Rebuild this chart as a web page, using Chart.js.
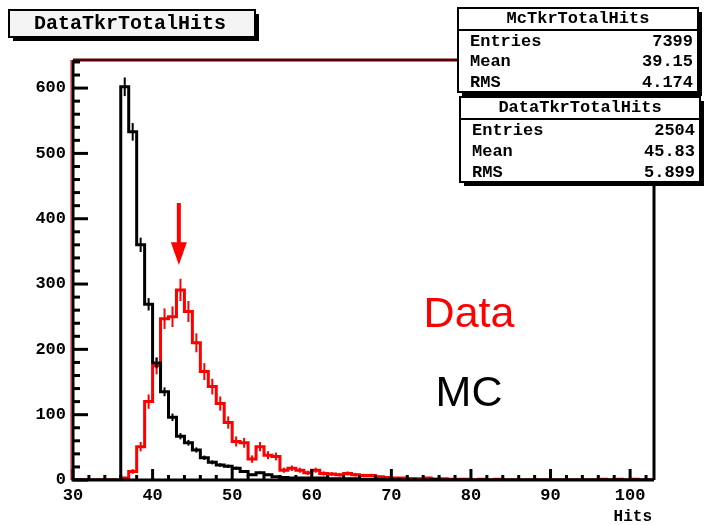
<!DOCTYPE html>
<html>
<head>
<meta charset="utf-8">
<script src="https://cdn.jsdelivr.net/npm/chart.js@4"></script>
<style>
  html, body { margin: 0; padding: 0; background: #fff; }
  #wrap { width: 708px; height: 525px; }
</style>
</head>
<body>
<div id="wrap"><canvas id="hitsChart" width="708" height="525"></canvas></div>
<script>
// histogram bins: width 1, first bin starts at 30
const xStart = 30;
const binWidth = 1;
const xMin = 30, xMax = 103;
const yMin = 0, yMax = 643;
const xTickValues = [30, 40, 50, 60, 70, 80, 90, 100];
const yTickValues = [0, 100, 200, 300, 400, 500, 600];

// counts per bin, 30..102
const mcCounts = [
    0, 0, 0, 0, 0, 0,                 // 30-35
    602, 533, 360, 269, 179, 135, 96, 67, 57, 46,   // 36-45
    34, 27, 23, 21, 18, 13, 8, 11, 8, 5,            // 46-55
    4, 3, 3, 3, 3, 3, 2, 2, 2, 2,                   // 56-65
    1, 1, 1, 1, 1, 0, 1, 0, 0, 1,                   // 66-75
    0, 0, 0, 0, 0, 0, 0, 0, 0, 0,                   // 76-85
    0, 0, 0, 0, 0, 0, 0, 0, 0, 0,                   // 86-95
    0, 0, 0, 0, 0, 0, 0                             // 96-102
];
const dataCounts = [
    0, 0, 0, 0, 0, 0,                 // 30-35
    3, 13, 51, 120, 175, 247, 250, 291, 258, 210,   // 36-45
    166, 143, 117, 88, 59, 57, 32, 51, 38, 36,      // 46-55
    15, 18, 15, 11, 15, 10, 9, 8, 10, 8,            // 56-65
    7, 7, 5, 4, 3, 3, 2, 2, 3, 1,                   // 66-75
    2, 1, 1, 1, 0, 1, 0, 1, 0, 0,                   // 76-85
    0, 0, 0, 0, 0, 0, 0, 0, 0, 0,                   // 86-95
    1, 0, 1, 0, 1, 0, 0                             // 96-102
];

const mcName = 'McTkrTotalHits';
const dataName = 'DataTkrTotalHits';
const statLabels = ['Entries', 'Mean', 'RMS'];
const mcStats = ['7399', '39.15', '4.174'];
const dataStats = ['2504', '45.83', '5.899'];
const mcScale = 2504 / 7399;   // MC normalised to data

// arrow marking the data peak
const arrowX = 43.3;
const arrowTop = 424, arrowHead = 364, arrowTip = 329;

const mono = '"Liberation Mono", "Courier New", monospace';

function histPoints(counts) {
    // point i sits at the left edge of bin i; 'before' stepping keeps its
    // value across the bin, then the closing point ends the last bin
    const pts = counts.map((c, i) => ({ x: xStart + i * binWidth, y: c }));
    pts.push({ x: xStart + counts.length * binWidth, y: counts[counts.length - 1] });
    return pts;
}

function drawBox(ctx, x, y, w, h, fill) {
    ctx.fillStyle = '#000';
    ctx.fillRect(x + 4, y + 4, w, h);           // shadow
    ctx.fillStyle = fill;
    ctx.fillRect(x, y, w, h);
    ctx.strokeStyle = '#000';
    ctx.lineWidth = 2;
    ctx.strokeRect(x, y, w, h);
}

function drawStatBox(ctx, x, y, w, h, name, values) {
    drawBox(ctx, x, y, w, h, '#fff');
    const titleH = 22;
    ctx.beginPath();
    ctx.moveTo(x, y + titleH);
    ctx.lineTo(x + w, y + titleH);
    ctx.lineWidth = 2;
    ctx.stroke();
    ctx.fillStyle = '#000';
    ctx.font = 'bold 17px ' + mono;
    ctx.textBaseline = 'middle';
    ctx.textAlign = 'center';
    ctx.fillText(name, x + w / 2, y + 11);
    const rowH = (h - titleH) / 3;
    statLabels.forEach((lab, i) => {
        const cy = y + titleH + rowH * (i + 0.5) + 1;
        ctx.textAlign = 'left';
        ctx.fillText(lab, x + 12, cy);
        ctx.textAlign = 'right';
        ctx.fillText(values[i], x + w - 5, cy);
    });
}

const rootDecor = {
    id: 'rootDecor',
    afterDatasetsDraw(chart) {
        const ctx = chart.ctx;
        const xs = chart.scales.x, ys = chart.scales.y;
        const a = chart.chartArea;
        ctx.save();

        // error bars at bin centres
        [[dataCounts, '#f00', 1], [mcCounts, '#000', mcScale]].forEach(([counts, col, s]) => {
            ctx.strokeStyle = col;
            ctx.lineWidth = 2;
            counts.forEach((c, i) => {
                if (c <= 0) return;
                const e = Math.sqrt(c * s);
                const px = xs.getPixelForValue(xStart + (i + 0.5) * binWidth);
                ctx.beginPath();
                ctx.moveTo(px, ys.getPixelForValue(Math.max(0, c - e)));
                ctx.lineTo(px, ys.getPixelForValue(c + e));
                ctx.stroke();
            });
        });

        // frame
        ctx.lineWidth = 3;
        ctx.strokeStyle = '#5a0000';
        ctx.beginPath();
        ctx.moveTo(a.left, a.top);
        ctx.lineTo(a.right, a.top);
        ctx.stroke();
        ctx.strokeStyle = '#000';
        ctx.beginPath();
        ctx.moveTo(a.right, a.top);
        ctx.lineTo(a.right, a.bottom);
        ctx.stroke();
        ctx.beginPath();
        ctx.moveTo(a.left, a.top);
        ctx.lineTo(a.left, a.bottom);
        ctx.lineTo(a.right, a.bottom);
        ctx.stroke();
        ctx.strokeStyle = '#c00000';
        ctx.lineWidth = 1;
        ctx.beginPath();
        ctx.moveTo(a.left - 2, a.top);
        ctx.lineTo(a.left - 2, a.bottom);
        ctx.stroke();

        // inner ticks
        ctx.strokeStyle = '#000';
        ctx.lineWidth = 3;
        for (let v = yMin; v <= yMax; v += 20) {
            const py = ys.getPixelForValue(v);
            const len = v % 100 === 0 ? 15 : 7;
            ctx.beginPath();
            ctx.moveTo(a.left, py);
            ctx.lineTo(a.left + len, py);
            ctx.stroke();
        }
        for (let v = xMin; v <= xMax; v += 2) {
            const px = xs.getPixelForValue(v);
            const len = v % 10 === 0 ? 11 : 5;
            ctx.beginPath();
            ctx.moveTo(px, a.bottom);
            ctx.lineTo(px, a.bottom - len);
            ctx.stroke();
        }

        // arrow
        const ax = xs.getPixelForValue(arrowX);
        ctx.strokeStyle = '#f00';
        ctx.fillStyle = '#f00';
        ctx.lineWidth = 4;
        ctx.beginPath();
        ctx.moveTo(ax, ys.getPixelForValue(arrowTop));
        ctx.lineTo(ax, ys.getPixelForValue(arrowHead) + 2);
        ctx.stroke();
        ctx.beginPath();
        ctx.moveTo(ax - 8, ys.getPixelForValue(arrowHead));
        ctx.lineTo(ax + 8, ys.getPixelForValue(arrowHead));
        ctx.lineTo(ax, ys.getPixelForValue(arrowTip));
        ctx.closePath();
        ctx.fill();

        // Data / MC labels
        ctx.font = '43px "Liberation Sans", Arial, sans-serif';
        ctx.textAlign = 'center';
        ctx.textBaseline = 'middle';
        ctx.fillStyle = '#f00';
        ctx.fillText('Data', 469, 315);
        ctx.fillStyle = '#000';
        ctx.fillText('MC', 469, 394);

        // axis label
        ctx.font = 'bold 16px ' + mono;
        ctx.textAlign = 'right';
        ctx.fillText('Hits', a.right - 2, 517);

        // title box
        drawBox(ctx, 9, 10, 246, 27, '#f4f4f4');
        ctx.fillStyle = '#000';
        ctx.font = 'bold 20px ' + mono;
        ctx.textAlign = 'center';
        ctx.textBaseline = 'middle';
        ctx.fillText(dataName, 130, 24);

        // stat boxes
        drawStatBox(ctx, 458, 8, 240, 84, mcName, mcStats);
        drawStatBox(ctx, 460, 97, 240, 85, dataName, dataStats);

        ctx.restore();
    }
};

const ctx = document.getElementById('hitsChart').getContext('2d');
new Chart(ctx, {
    type: 'line',
    data: {
        datasets: [
            {
                label: mcName,
                data: histPoints(mcCounts),
                stepped: 'before',
                borderColor: '#000',
                borderWidth: 3,
                pointRadius: 0,
                fill: false
            },
            {
                label: dataName,
                data: histPoints(dataCounts),
                stepped: 'before',
                borderColor: '#f00',
                borderWidth: 3,
                pointRadius: 0,
                fill: false
            }
        ]
    },
    options: {
        responsive: false,
        animation: false,
        layout: { padding: { top: 60, right: 54, left: 0, bottom: 0 } },
        plugins: {
            legend: { display: false },
            tooltip: { enabled: false }
        },
        scales: {
            x: {
                type: 'linear',
                min: xMin,
                max: xMax,
                grid: { display: false, drawTicks: false },
                border: { display: false },
                afterBuildTicks: s => { s.ticks = xTickValues.map(v => ({ value: v })); },
                afterFit: s => { s.height = 45; },
                ticks: {
                    autoSkip: false,
                    maxRotation: 0,
                    padding: 6,
                    color: '#000',
                    font: { family: mono, size: 17, weight: 'bold' }
                }
            },
            y: {
                type: 'linear',
                min: yMin,
                max: yMax,
                grid: { display: false, drawTicks: false },
                border: { display: false },
                afterBuildTicks: s => { s.ticks = yTickValues.map(v => ({ value: v })); },
                afterFit: s => { s.width = 73; },
                ticks: {
                    autoSkip: false,
                    padding: 7,
                    color: '#000',
                    font: { family: mono, size: 17, weight: 'bold' }
                }
            }
        }
    },
    plugins: [rootDecor]
});
</script>
</body>
</html>
